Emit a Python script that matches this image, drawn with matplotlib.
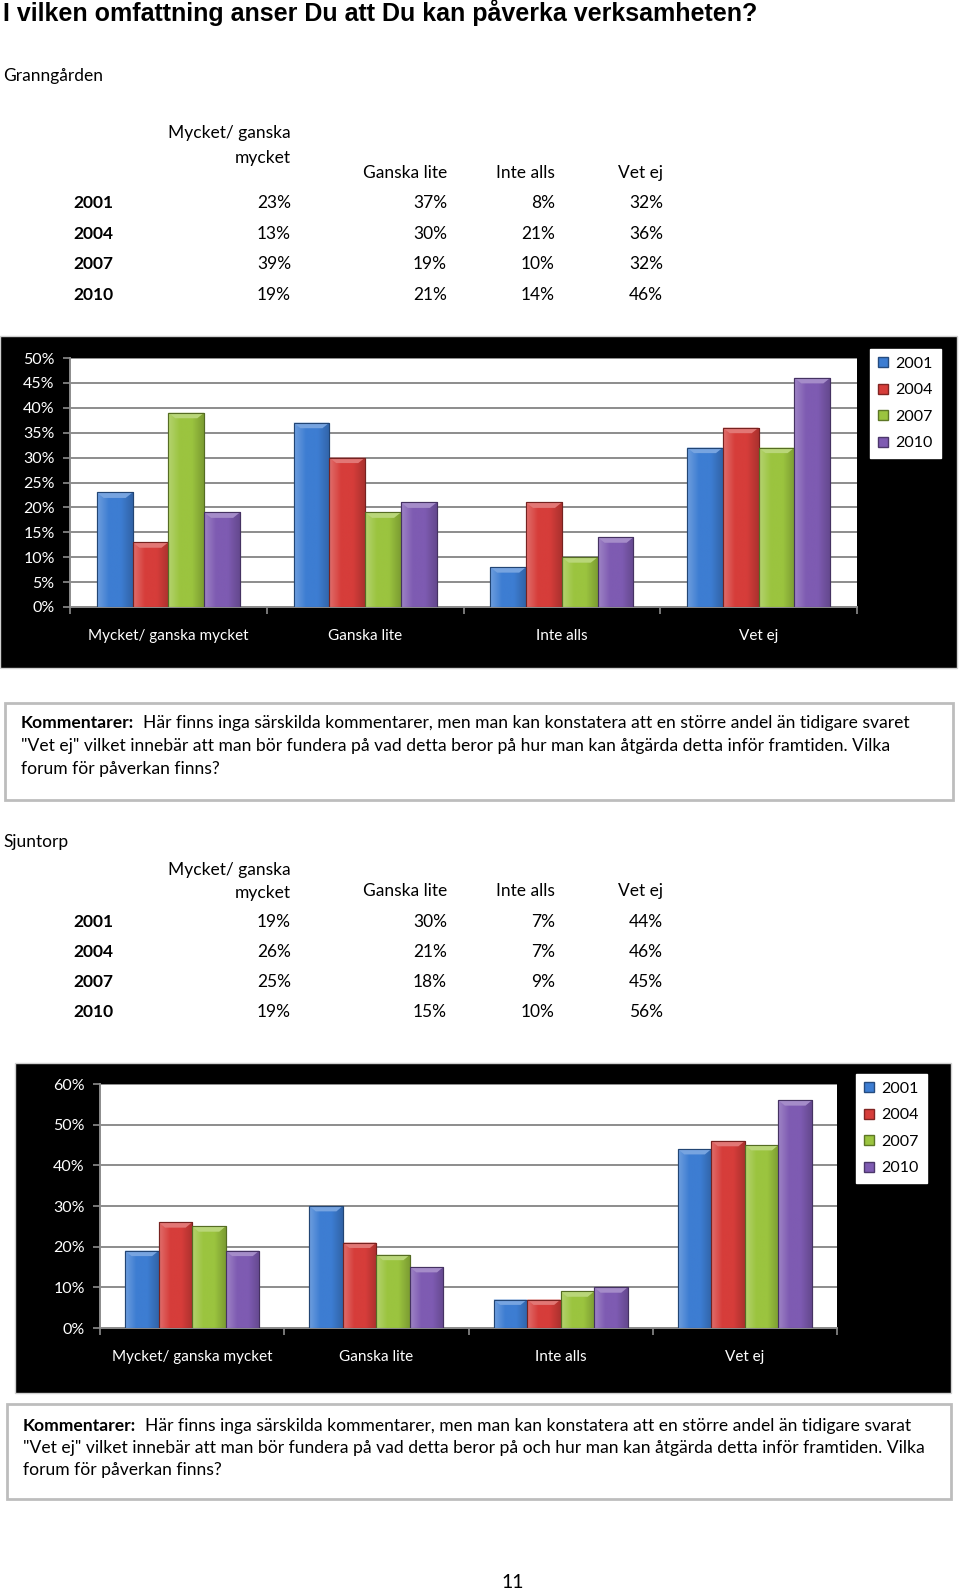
import numpy as np
import matplotlib
matplotlib.use("Agg")
import matplotlib.pyplot as plt
from matplotlib.patches import Rectangle, Patch, Polygon
from matplotlib.colors import LinearSegmentedColormap, to_rgb

# ---------------- data ----------------
categories = ["Mycket/ ganska mycket", "Ganska lite", "Inte alls", "Vet ej"]
years = ["2001", "2004", "2007", "2010"]

# Granngården, one row per year, columns follow categories
gg_2001 = [23, 37, 8, 32]
gg_2004 = [13, 30, 21, 36]
gg_2007 = [39, 19, 10, 32]
gg_2010 = [19, 21, 14, 46]

# Sjuntorp
sj_2001 = [19, 30, 7, 44]
sj_2004 = [26, 21, 7, 46]
sj_2007 = [25, 18, 9, 45]
sj_2010 = [19, 15, 10, 56]

colors = ["#3d7dd2", "#d63d3a", "#9bc43f", "#7e5bb2"]

title = "I vilken omfattning anser Du att Du kan påverka verksamheten?"
comment1 = ["  Här finns inga särskilda kommentarer, men man kan konstatera att en större andel än tidigare svaret",
            "\"Vet ej\" vilket innebär att man bör fundera på vad detta beror på hur man kan åtgärda detta inför framtiden. Vilka",
            "forum för påverkan finns?"]
comment2 = ["  Här finns inga särskilda kommentarer, men man kan konstatera att en större andel än tidigare svarat",
            "\"Vet ej\" vilket innebär att man bör fundera på vad detta beror på och hur man kan åtgärda detta inför framtiden. Vilka",
            "forum för påverkan finns?"]

# ---------------- layout helpers (pixel coords, origin top-left) ----------------
W, H = 960, 1591
fig = plt.figure(figsize=(W / 100, H / 100), dpi=100)
FONT = "Lato"


def fx(x):
    return x / W


def fy(y):
    return 1 - y / H


def txt(x, y, s, **kw):
    kw.setdefault("family", FONT)
    kw.setdefault("va", "center")
    return fig.text(fx(x), fy(y), s, **kw)


def shade(c, f):
    r, g, b = to_rgb(c)
    if f > 1:
        return (r + (1 - r) * (f - 1), g + (1 - g) * (f - 1), b + (1 - b) * (f - 1))
    return (r * f, g * f, b * f)


def table(y_head2, y_head1, y_head, y_rows, rows):
    col_right = [291, 447, 555, 663]
    txt(col_right[0], y_head2, "Mycket/ ganska", ha="right", fontsize=12.5)
    txt(col_right[0], y_head1, "mycket", ha="right", fontsize=12.5)
    for cx, name in zip(col_right[1:], categories[1:]):
        txt(cx, y_head, name, ha="right", fontsize=12.5)
    for yy, yr, vals in zip(y_rows, years, rows):
        txt(73, yy, yr, ha="left", fontsize=12.5, weight="bold")
        for cx, v in zip(col_right, vals):
            txt(cx, yy, f"{v}%", ha="right", fontsize=12.5)


def chart(box, plot, rows, ymax, ystep, leg_xy):
    bx0, by0, bx1, by1 = box
    fig.patches.append(Rectangle((fx(bx0), fy(by1)), (bx1 - bx0) / W, (by1 - by0) / H,
                                 transform=fig.transFigure, facecolor="black",
                                 edgecolor="#d0d0d0", lw=1, zorder=-5))
    px0, py0, px1, py1 = plot
    ax = fig.add_axes([fx(px0), fy(py1), (px1 - px0) / W, (py1 - py0) / H])
    ax.set_facecolor("white")
    w = 0.182
    x = np.arange(len(categories))
    for j, vals in enumerate(rows):
        base = colors[j]
        cmap = LinearSegmentedColormap.from_list("bar", [shade(base, 1.25), base, base, shade(base, 0.8)])
        bars = ax.bar(x + (j - 1.5) * w, vals, width=w, color=base,
                      edgecolor=shade(base, 0.6), linewidth=0.8, zorder=3)
        for b in bars:
            x0, h = b.get_x(), b.get_height()
            im = ax.imshow(np.linspace(0, 1, 64).reshape(1, -1), cmap=cmap, aspect="auto",
                           extent=[x0, x0 + w, 0, h], zorder=3.2)
            im.set_clip_path(b)
            d, dh = 0.035, ymax * 0.022
            ax.add_patch(Polygon([[x0, h], [x0 + w, h], [x0 + w - d, h - dh], [x0 + d, h - dh]],
                                 closed=True, facecolor=shade(base, 1.3), edgecolor="none", zorder=3.4))
            ax.add_patch(Rectangle((x0, 0), w, h, facecolor="none",
                                   edgecolor=shade(base, 0.55), lw=0.8, zorder=3.6))
    ax.set_xlim(-0.5, 3.5)
    ax.set_ylim(0, ymax)
    ax.set_yticks(np.arange(0, ymax + 1, ystep))
    ax.set_yticklabels([f"{v}%" for v in range(0, ymax + 1, ystep)], color="white",
                       family=FONT, fontsize=11.5)
    ax.set_xticks(x)
    ax.set_xticklabels(categories, color="white", family=FONT, fontsize=11)
    ax.set_xticks(np.arange(-0.5, 4, 1), minor=True)
    ax.tick_params(axis="x", which="major", length=0, pad=16)
    ax.tick_params(axis="x", which="minor", length=5, color="#8c8c8c", width=1.2)
    ax.tick_params(axis="y", length=5, color="#8c8c8c", width=1.2, pad=6)
    ax.yaxis.grid(True, color="#8c8c8c", lw=1.4)
    ax.set_axisbelow(True)
    for s in ["top", "right"]:
        ax.spines[s].set_visible(False)
    for s in ["left", "bottom"]:
        ax.spines[s].set_color("#8c8c8c")
        ax.spines[s].set_linewidth(1.4)
    handles = [Patch(facecolor=c, edgecolor=shade(c, 0.6)) for c in colors]
    fig.legend(handles, years, loc="upper left", bbox_to_anchor=(fx(leg_xy[0]), fy(leg_xy[1])),
               frameon=True, fancybox=False, edgecolor="white", facecolor="white", framealpha=1,
               handlelength=0.6, handleheight=0.6, handletextpad=0.5, labelspacing=0.78,
               borderpad=0.5, borderaxespad=0, prop={"family": FONT, "size": 11.5})
    return ax


def comment(box, y_lines, lines):
    bx0, by0, bx1, by1 = box
    fig.patches.append(Rectangle((fx(bx0), fy(by1)), (bx1 - bx0) / W, (by1 - by0) / H,
                                 transform=fig.transFigure, facecolor="none",
                                 edgecolor="#bdbdbd", lw=2, zorder=-5))
    x0 = bx0 + 16
    t = txt(x0, y_lines[0], "Kommentarer:", fontsize=12.6, weight="bold")
    fig.canvas.draw()
    ext = t.get_window_extent()
    txt(ext.x1, y_lines[0], lines[0], fontsize=12.6)
    for yy, s in zip(y_lines[1:], lines[1:]):
        txt(x0, yy, s, fontsize=12.6)


# ---------------- page ----------------
txt(3, 13, title, family="Liberation Sans", weight="bold", fontsize=18)

txt(3, 76, "Granngården", fontsize=12.5)
table(133, 158, 173, [203, 234, 264, 295], [gg_2001, gg_2004, gg_2007, gg_2010])
chart((0, 336, 957, 668), (70, 358, 857, 607), [gg_2001, gg_2004, gg_2007, gg_2010], 50, 5, (870, 349))
comment((5, 703, 953, 800), [723, 746, 769], comment1)

txt(3, 842, "Sjuntorp", fontsize=12.5)
table(870, 893, 891, [922, 952, 982, 1012], [sj_2001, sj_2004, sj_2007, sj_2010])
chart((15, 1063, 951, 1393), (100, 1084, 837, 1328), [sj_2001, sj_2004, sj_2007, sj_2010], 60, 10, (856, 1074))
comment((7, 1404, 951, 1499), [1426, 1448, 1470], comment2)

txt(513, 1582, "11", fontsize=14, ha="center")

fig.savefig("out.png", dpi=100)
